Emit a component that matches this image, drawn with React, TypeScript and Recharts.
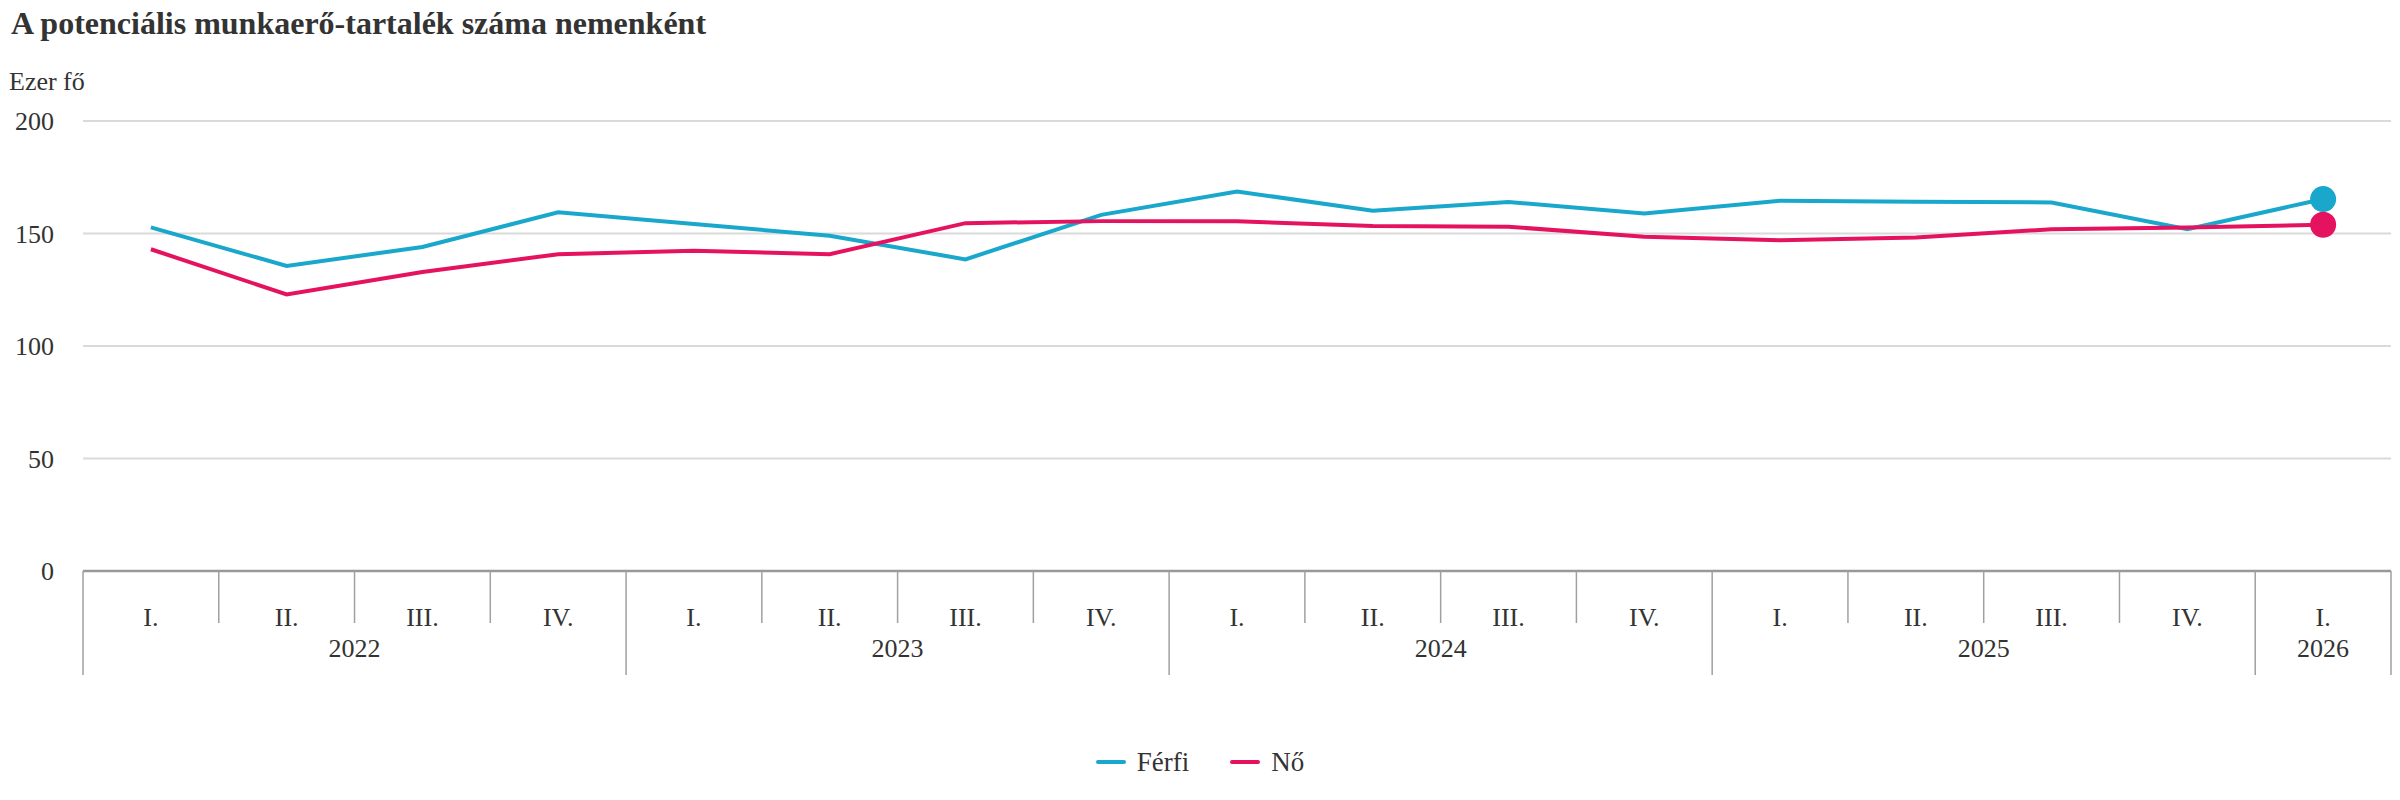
import React from 'react'
import { LineChart, Line, XAxis, YAxis, CartesianGrid, Legend } from 'recharts'

const quarterLabels = ['I.', 'II.', 'III.', 'IV.', 'I.', 'II.', 'III.', 'IV.', 'I.', 'II.', 'III.', 'IV.', 'I.', 'II.', 'III.', 'IV.', 'I.']
const yearLabels = ['2022', '2022', '2022', '2022', '2023', '2023', '2023', '2023', '2024', '2024', '2024', '2024', '2025', '2025', '2025', '2025', '2026']
const ferfi = [152.7, 135.6, 144.0, 159.4, 154.2, 149.0, 138.5, 158.3, 168.7, 160.1, 164.0, 158.9, 164.6, 164.1, 163.8, 151.9, 165.3]
const no = [143.0, 122.9, 132.9, 140.8, 142.3, 140.8, 154.6, 155.5, 155.4, 153.3, 153.0, 148.6, 147.0, 148.2, 151.9, 152.7, 153.9]
const yTicks = [0, 50, 100, 150, 200]

const FONT = '"Liberation Serif", "Times New Roman", serif'
const TEXT = '#333333'
const BLUE = '#19a7cc'
const PINK = '#e5135f'

const data = quarterLabels.map((q, i) => ({
  pos: i + 0.5,
  quarter: q,
  year: yearLabels[i],
  ferfi: ferfi[i],
  no: no[i],
}))

// category boundaries (tick lines), quarter centres and year centres on the numeric x scale
const boundaries = new Map<number, 'year' | 'quarter'>()
for (let k = 0; k <= quarterLabels.length; k++) {
  const isYear = k === 0 || k === quarterLabels.length || yearLabels[k] !== yearLabels[k - 1]
  boundaries.set(k, isYear ? 'year' : 'quarter')
}
const quarterAt = new Map<number, string>()
quarterLabels.forEach((q, i) => quarterAt.set(i + 0.5, q))
const yearAt = new Map<number, string>()
let start = 0
for (let i = 1; i <= yearLabels.length; i++) {
  if (i === yearLabels.length || yearLabels[i] !== yearLabels[start]) {
    yearAt.set((start + i) / 2, yearLabels[start])
    start = i
  }
}
const xTicks = Array.from(new Set([...boundaries.keys(), ...quarterAt.keys(), ...yearAt.keys()])).sort((a, b) => a - b)

function XTick(props: any) {
  const { x, y, payload } = props
  const v = payload.value
  const kind = boundaries.get(v)
  const q = quarterAt.get(v)
  const yr = yearAt.get(v)
  return (
    <g>
      {kind && (
        <line x1={x} x2={x} y1={y} y2={y + (kind === 'year' ? 104 : 52)} stroke="#a0a0a0" strokeWidth={1.5} />
      )}
      {q && (
        <text x={x} y={y + 55} textAnchor="middle" fill={TEXT} fontSize={26} fontFamily={FONT}>
          {q}
        </text>
      )}
      {yr && (
        <text x={x} y={y + 86} textAnchor="middle" fill={TEXT} fontSize={26} fontFamily={FONT}>
          {yr}
        </text>
      )}
    </g>
  )
}

function endDot(color: string) {
  return (p: any) =>
    p.index === data.length - 1 ? (
      <circle key={`d-${p.index}`} cx={p.cx} cy={p.cy} r={13} fill={color} />
    ) : (
      <g key={`d-${p.index}`} />
    )
}

function LegendContent(props: any) {
  const items = props.payload || []
  return (
    <div style={{ display: 'flex', justifyContent: 'center', alignItems: 'center', height: 40, gap: 41 }}>
      {items.map((it: any) => (
        <div key={it.value} style={{ display: 'flex', alignItems: 'center', gap: 11 }}>
          <span style={{ width: 30, height: 4, borderRadius: 2, background: it.color, display: 'inline-block' }} />
          <span style={{ fontFamily: FONT, fontSize: 27, color: TEXT }}>{it.value}</span>
        </div>
      ))}
    </div>
  )
}

export default function App() {
  return (
    <div style={{ position: 'absolute', left: 0, top: 0, width: 2400, height: 800, background: '#fff' }}>
      <svg width={2400} height={100} style={{ position: 'absolute', left: 0, top: 0 }}>
        <text x={11} y={34} fontFamily={FONT} fontSize={32} fontWeight="bold" fill={TEXT}>
          A potenciális munkaerő-tartalék száma nemenként
        </text>
        <text x={9} y={90} fontFamily={FONT} fontSize={26} fill={TEXT}>
          Ezer fő
        </text>
      </svg>
      <div style={{ position: 'absolute', left: 0, top: 0 }}>
        <LineChart width={2400} height={800} data={data} margin={{ top: 121, right: 9, left: 0, bottom: 84 }}>
          <CartesianGrid vertical={false} stroke="#dadada" strokeWidth={2} />
          <YAxis
            domain={[0, 200]}
            ticks={yTicks}
            width={83}
            axisLine={false}
            tickLine={false}
            tickSize={0}
            tickMargin={29}
            tick={{ fill: TEXT, fontSize: 26, fontFamily: FONT }}
          />
          <XAxis
            dataKey="pos"
            type="number"
            domain={[0, quarterLabels.length]}
            ticks={xTicks}
            interval={0}
            height={105}
            tickSize={0}
            tickMargin={0}
            tickLine={false}
            axisLine={{ stroke: '#999999', strokeWidth: 2.5 }}
            tick={<XTick />}
          />
          <Legend
            verticalAlign="bottom"
            content={<LegendContent />}
            wrapperStyle={{ left: 0, bottom: 18, width: 2400 }}
          />
          <Line
            name="Férfi"
            dataKey="ferfi"
            type="linear"
            stroke={BLUE}
            strokeWidth={4}
            dot={endDot(BLUE)}
            activeDot={false}
            isAnimationActive={false}
          />
          <Line
            name="Nő"
            dataKey="no"
            type="linear"
            stroke={PINK}
            strokeWidth={4}
            dot={endDot(PINK)}
            activeDot={false}
            isAnimationActive={false}
          />
        </LineChart>
      </div>
    </div>
  )
}
